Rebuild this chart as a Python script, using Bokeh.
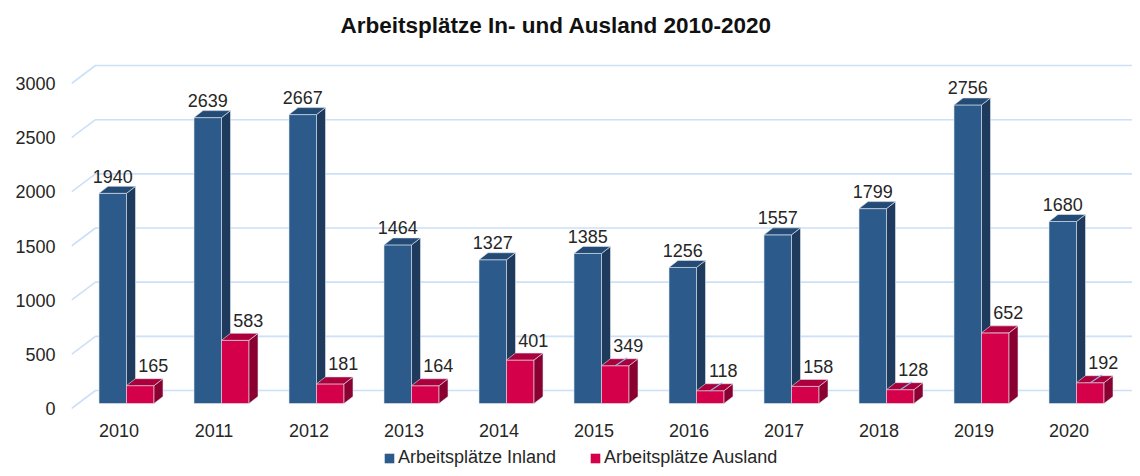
from bokeh.plotting import figure
from bokeh.layouts import column
from bokeh.models import Range1d, FixedTicker, Legend, LegendItem
from bokeh.embed import file_html
from bokeh.resources import INLINE
from bokeh.core.properties import value

# ---------------- data ----------------
years = [2010, 2011, 2012, 2013, 2014, 2015, 2016, 2017, 2018, 2019, 2020]
inland = [1940, 2639, 2667, 1464, 1327, 1385, 1256, 1557, 1799, 2756, 1680]
ausland = [165, 583, 181, 164, 401, 349, 118, 158, 128, 652, 192]
y_ticks = [0, 500, 1000, 1500, 2000, 2500, 3000]
leader_years = [2015, 2016, 2018, 2020]
series_names = ["Arbeitsplätze Inland", "Arbeitsplätze Ausland"]
title_text = "Arbeitsplätze In- und Ausland 2010-2020"

# ---------------- geometry (pixel based, converted to data units) ----------------
PX_PER_CAT = 95.0
PX_PER_UNIT = 0.10833
W = 1132
H = 444
LEG_H = 24
B_LEFT, B_RIGHT, B_TOP, B_BOTTOM = 71, 0, 45, 24
frame_w = W - B_LEFT - B_RIGHT
frame_h = H - B_TOP - B_BOTTOM

x_start = years[0] - 0.5
x_end = x_start + frame_w / PX_PER_CAT
y_start = -12 / PX_PER_UNIT
y_end = y_start + frame_h / PX_PER_UNIT

gc_off = 7.5 / PX_PER_CAT          # group centre relative to label
bar_w = 27.5 / PX_PER_CAT
bar_base = 5 / PX_PER_UNIT          # bars sit slightly behind the axis front
DX = 9 / PX_PER_CAT
DY = 7 / PX_PER_UNIT
GDX = 24 / PX_PER_CAT               # wall depth for grid
GDY = 18 / PX_PER_UNIT

FONT = "Liberation Sans"
TXT = "#262626"
GRID = "#cce0f8"
BLUE = ("#2c5a8a", "#1e3a5c", "#244b75")
RED = ("#d5004a", "#8a0030", "#ab003c")

p = figure(width=W, height=H, output_backend="svg", toolbar_location=None,
           x_range=Range1d(x_start, x_end), y_range=Range1d(y_start, y_end),
           min_border_left=B_LEFT, min_border_right=B_RIGHT,
           min_border_top=B_TOP, min_border_bottom=B_BOTTOM,
           title=title_text)
p.outline_line_color = None
p.xgrid.visible = False
p.ygrid.visible = False

p.title.align = "left"
p.title.offset = 269
p.title.text_font = FONT
p.title.text_font_size = "22.5px"
p.title.text_font_style = "bold"
p.title.text_color = "#111111"
p.title.standoff = 16

# perspective grid lines
gx, gy = [], []
for v in y_ticks:
    gx.append([x_start, x_start + GDX, x_end])
    gy.append([v, v + GDY, v + GDY])
p.multi_line(gx, gy, line_color=GRID, line_width=1.6)


def faces(lefts, vals):
    fx, fy, sx, sy, tx, ty = [], [], [], [], [], []
    for xl, v in zip(lefts, vals):
        xr = xl + bar_w
        b = bar_base
        t = v + bar_base
        fx.append([xl, xr, xr, xl]); fy.append([b, b, t, t])
        sx.append([xr, xr + DX, xr + DX, xr]); sy.append([b, b + DY, t + DY, t])
        tx.append([xl, xr, xr + DX, xl + DX]); ty.append([t, t, t + DY, t + DY])
    return fx, fy, sx, sy, tx, ty


for vals, lefts, cols in [
    (inland, [y + gc_off - bar_w for y in years], BLUE),
    (ausland, [y + gc_off for y in years], RED),
]:
    fx, fy, sx, sy, tx, ty = faces(lefts, vals)
    p.patches(fx, fy, fill_color=cols[0], line_color="#dfe7f1", line_width=0.6)
    p.patches(sx, sy, fill_color=cols[1], line_color="#dfe7f1", line_width=0.6)
    p.patches(tx, ty, fill_color=cols[2], line_color="#dfe7f1", line_width=0.6)

# leader lines for a few foreign labels
lx, ly = [], []
for y, v in zip(years, ausland):
    if y in leader_years:
        xc = y + gc_off + bar_w / 2
        t = v + bar_base
        lx.append([xc, xc + 12 / PX_PER_CAT])
        ly.append([t, t + 8 / PX_PER_UNIT])
p.multi_line(lx, ly, line_color="#8fb8e8", line_width=1.2)

# value labels
p.text(x=[y + gc_off - bar_w / 2 for y in years],
       y=[v + bar_base + 17 / PX_PER_UNIT for v in inland],
       text=[str(v) for v in inland], text_align="center", text_baseline="middle",
       text_font=value(FONT), text_font_size="18px", text_color=TXT)
p.text(x=[y + gc_off + bar_w / 2 + 13 / PX_PER_CAT for y in years],
       y=[v + bar_base + 20 / PX_PER_UNIT for v in ausland],
       text=[str(v) for v in ausland], text_align="center", text_baseline="middle",
       text_font=value(FONT), text_font_size="18px", text_color=TXT)

# axes
for ax in (p.xaxis[0], p.yaxis[0]):
    ax.axis_line_color = None
    ax.major_tick_line_color = None
    ax.minor_tick_line_color = None
    ax.major_tick_out = 0
    ax.major_tick_in = 0
    ax.major_label_text_font = FONT
    ax.major_label_text_font_size = "18px"
    ax.major_label_text_color = TXT
p.yaxis.ticker = FixedTicker(ticks=y_ticks)
p.yaxis.major_label_standoff = 16
p.xaxis.ticker = FixedTicker(ticks=years)
p.xaxis.major_label_standoff = 3

# ---------------- legend strip ----------------
nan = float("nan")
pl = figure(width=W, height=LEG_H, output_backend="svg", toolbar_location=None,
            x_range=Range1d(0, 1), y_range=Range1d(0, 1), min_border=0)
pl.outline_line_color = None
pl.axis.visible = False
pl.grid.visible = False
r_in = pl.quad(left=[nan], right=[nan], top=[nan], bottom=[nan],
               fill_color=BLUE[0], line_color=None)
r_aus = pl.quad(left=[nan], right=[nan], top=[nan], bottom=[nan],
                fill_color=RED[0], line_color=None)
legend = Legend(items=[LegendItem(label=series_names[0], renderers=[r_in]),
                       LegendItem(label=series_names[1], renderers=[r_aus])],
                orientation="horizontal", location=(312, 0))
legend.background_fill_alpha = 0
legend.border_line_color = None
legend.padding = 0
legend.margin = 0
legend.spacing = 33
legend.label_standoff = 3
legend.glyph_width = 12
legend.glyph_height = 12
legend.label_text_font = FONT
legend.label_text_font_size = "18px"
legend.label_text_color = TXT
pl.add_layout(legend)

layout = column(p, pl, spacing=0)
open("out.html", "w").write(file_html(layout, INLINE))
